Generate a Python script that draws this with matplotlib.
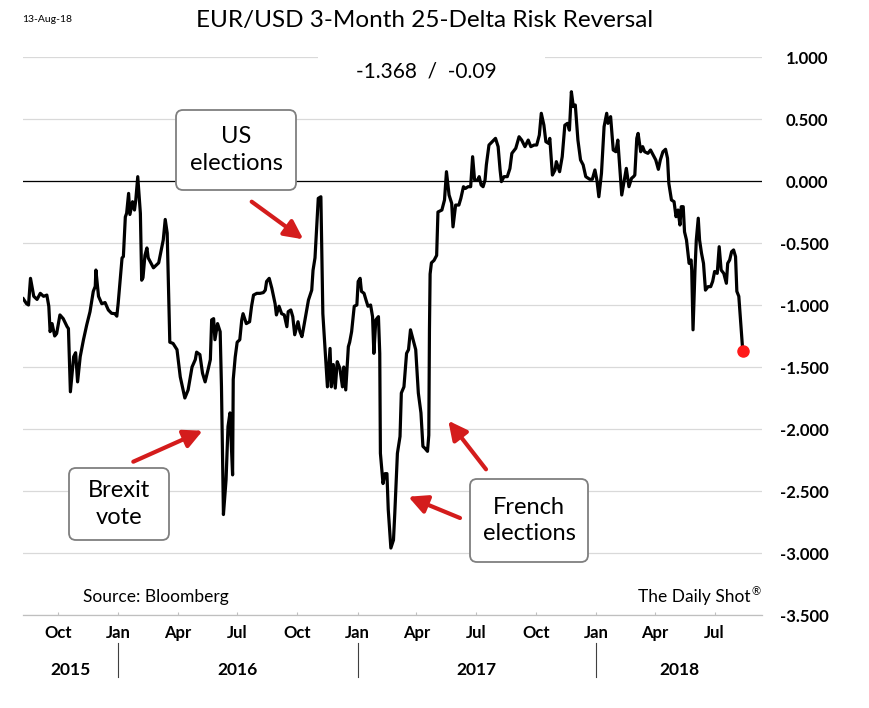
import numpy as np
import pandas as pd
import matplotlib
matplotlib.use("Agg")
import matplotlib.pyplot as plt
import matplotlib.dates as mdates
from matplotlib.ticker import FormatStrFormatter
from matplotlib.patches import FancyBboxPatch, Rectangle
from matplotlib.transforms import blended_transform_factory

plt.rcParams['font.family'] = ['Lato', 'DejaVu Sans']

# EUR/USD 3M 25-delta risk reversal
dates = [
    "2015-08-09", "2015-08-14", "2015-08-17", "2015-08-20", "2015-08-25", "2015-08-30",
    "2015-09-04", "2015-09-09", "2015-09-14", "2015-09-17", "2015-09-19", "2015-09-22",
    "2015-09-26", "2015-09-29", "2015-10-04", "2015-10-09", "2015-10-15", "2015-10-17",
    "2015-10-20", "2015-10-25", "2015-10-28", "2015-10-31", "2015-11-04", "2015-11-09",
    "2015-11-14", "2015-11-19", "2015-11-24", "2015-11-27", "2015-11-28", "2015-12-02",
    "2015-12-07", "2015-12-12", "2015-12-17", "2015-12-22", "2015-12-27", "2015-12-30",
    "2016-01-01", "2016-01-04", "2016-01-07", "2016-01-09", "2016-01-12", "2016-01-14",
    "2016-01-17", "2016-01-19", "2016-01-23", "2016-01-26", "2016-01-28", "2016-01-31",
    "2016-02-04", "2016-02-06", "2016-02-08", "2016-02-11", "2016-02-14", "2016-02-16",
    "2016-02-24", "2016-03-03", "2016-03-08", "2016-03-10", "2016-03-13", "2016-03-16",
    "2016-03-20", "2016-03-25", "2016-03-31", "2016-04-05", "2016-04-12", "2016-04-17",
    "2016-04-23", "2016-04-28", "2016-04-30", "2016-05-05", "2016-05-09", "2016-05-13",
    "2016-05-18", "2016-05-21", "2016-05-23", "2016-05-26", "2016-05-28", "2016-06-01",
    "2016-06-05", "2016-06-07", "2016-06-10", "2016-06-14", "2016-06-17", "2016-06-20",
    "2016-06-24", "2016-06-25", "2016-06-28", "2016-07-01", "2016-07-05", "2016-07-08",
    "2016-07-10", "2016-07-15", "2016-07-20", "2016-07-23", "2016-07-26", "2016-07-31",
    "2016-08-05", "2016-08-10", "2016-08-13", "2016-08-15", "2016-08-19", "2016-08-23",
    "2016-08-28", "2016-08-30", "2016-09-03", "2016-09-07", "2016-09-11", "2016-09-15",
    "2016-09-17", "2016-09-21", "2016-09-24", "2016-09-27", "2016-09-30", "2016-10-02",
    "2016-10-05", "2016-10-08", "2016-10-10", "2016-10-13", "2016-10-18", "2016-10-23",
    "2016-10-25", "2016-10-28", "2016-10-31", "2016-11-02", "2016-11-06", "2016-11-09",
    "2016-11-12", "2016-11-16", "2016-11-20", "2016-11-22", "2016-11-25", "2016-11-28",
    "2016-12-01", "2016-12-05", "2016-12-09", "2016-12-11", "2016-12-14", "2016-12-18",
    "2016-12-20", "2016-12-23", "2016-12-27", "2016-12-31", "2017-01-02", "2017-01-05",
    "2017-01-07", "2017-01-11", "2017-01-14", "2017-01-17", "2017-01-21", "2017-01-24",
    "2017-01-26", "2017-01-29", "2017-02-02", "2017-02-04", "2017-02-05", "2017-02-09",
    "2017-02-12", "2017-02-15", "2017-02-17", "2017-02-21", "2017-02-25", "2017-02-27",
    "2017-03-03", "2017-03-07", "2017-03-09", "2017-03-13", "2017-03-17", "2017-03-20",
    "2017-03-23", "2017-03-27", "2017-03-31", "2017-04-04", "2017-04-08", "2017-04-11",
    "2017-04-14", "2017-04-18", "2017-04-20", "2017-04-21", "2017-04-22", "2017-04-24",
    "2017-04-28", "2017-05-02", "2017-05-04", "2017-05-10", "2017-05-14", "2017-05-17",
    "2017-05-21", "2017-05-25", "2017-05-27", "2017-05-31", "2017-06-05", "2017-06-08",
    "2017-06-12", "2017-06-15", "2017-06-19", "2017-06-23", "2017-06-26", "2017-06-29",
    "2017-07-04", "2017-07-06", "2017-07-09", "2017-07-12", "2017-07-15", "2017-07-17",
    "2017-07-21", "2017-07-26", "2017-07-31", "2017-08-04", "2017-08-07", "2017-08-09",
    "2017-08-13", "2017-08-18", "2017-08-22", "2017-08-25", "2017-08-31", "2017-09-05",
    "2017-09-09", "2017-09-14", "2017-09-19", "2017-09-23", "2017-09-28", "2017-10-02",
    "2017-10-06", "2017-10-09", "2017-10-13", "2017-10-16", "2017-10-20", "2017-10-22",
    "2017-10-26", "2017-10-30", "2017-11-01", "2017-11-06", "2017-11-10", "2017-11-14",
    "2017-11-18", "2017-11-21", "2017-11-24", "2017-11-27", "2017-11-30", "2017-12-04",
    "2017-12-08", "2017-12-12", "2017-12-16", "2017-12-22", "2017-12-26", "2017-12-30",
    "2018-01-02", "2018-01-05", "2018-01-09", "2018-01-13", "2018-01-17", "2018-01-19",
    "2018-01-23", "2018-01-27", "2018-01-31", "2018-02-03", "2018-02-09", "2018-02-12",
    "2018-02-16", "2018-02-20", "2018-02-24", "2018-02-27", "2018-03-01", "2018-03-04",
    "2018-03-06", "2018-03-10", "2018-03-13", "2018-03-16", "2018-03-21", "2018-03-25",
    "2018-03-29", "2018-04-02", "2018-04-06", "2018-04-09", "2018-04-13", "2018-04-17",
    "2018-04-20", "2018-04-22", "2018-04-26", "2018-04-30", "2018-05-03", "2018-05-06",
    "2018-05-09", "2018-05-11", "2018-05-14", "2018-05-16", "2018-05-19", "2018-05-23",
    "2018-05-26", "2018-05-27", "2018-05-29", "2018-06-01", "2018-06-03", "2018-06-06",
    "2018-06-08", "2018-06-11", "2018-06-14", "2018-06-17", "2018-06-21", "2018-06-25",
    "2018-06-28", "2018-07-01", "2018-07-05", "2018-07-08", "2018-07-11", "2018-07-15",
    "2018-07-19", "2018-07-21", "2018-07-24", "2018-07-27", "2018-07-30", "2018-08-02",
    "2018-08-04", "2018-08-07", "2018-08-13",
]
values = [
    -0.95, -0.99, -1.00, -0.785, -0.93, -0.955,
    -0.906, -0.93, -0.92, -1.01, -1.215, -1.15,
    -1.25, -1.23, -1.08, -1.11, -1.175, -1.19,
    -1.70, -1.417, -1.385, -1.62, -1.417, -1.28,
    -1.16, -1.054, -0.89, -0.85, -0.718, -0.93,
    -0.99, -0.98, -1.04, -1.067, -1.07, -1.09,
    -0.99, -0.80, -0.62, -0.61, -0.29, -0.26,
    -0.10, -0.27, -0.167, -0.234, -0.153, 0.035,
    -0.26, -0.80, -0.78, -0.60, -0.54, -0.62,
    -0.70, -0.66, -0.53, -0.475, -0.31, -0.42,
    -1.30, -1.31, -1.36, -1.58, -1.75, -1.685,
    -1.50, -1.44, -1.38, -1.40, -1.55, -1.62,
    -1.51, -1.44, -1.12, -1.11, -1.28, -1.15,
    -1.215, -1.66, -2.69, -2.41, -1.98, -1.87,
    -2.37, -1.60, -1.42, -1.30, -1.28, -1.12,
    -1.07, -1.15, -1.135, -1.01, -0.92, -0.906,
    -0.906, -0.90, -0.88, -0.81, -0.785, -0.865,
    -0.99, -1.08, -1.01, -1.07, -1.08, -1.175,
    -1.054, -1.04, -1.094, -1.24, -1.175, -1.135,
    -1.215, -1.255, -1.20, -1.11, -0.96, -0.88,
    -0.72, -0.62, -0.33, -0.14, -0.127, -1.07,
    -1.32, -1.66, -1.35, -1.66, -1.48, -1.67,
    -1.457, -1.51, -1.66, -1.50, -1.685, -1.336,
    -1.30, -1.215, -1.01, -1.00, -0.81, -0.785,
    -0.89, -0.906, -0.96, -1.01, -1.00, -1.094,
    -1.39, -1.12, -1.094, -1.39, -2.196, -2.44,
    -2.36, -2.36, -2.65, -2.96, -2.895, -2.68,
    -2.196, -2.06, -1.71, -1.66, -1.39, -1.36,
    -1.20, -1.28, -1.36, -1.71, -1.87, -2.14,
    -2.155, -2.18, -2.05, -1.20, -0.75, -0.66,
    -0.64, -0.60, -0.25, -0.234, -0.153, 0.075,
    -0.113, -0.18, -0.37, -0.194, -0.194, -0.14,
    -0.046, -0.06, -0.046, -0.046, 0.196, 0.008,
    0.008, 0.035, -0.032, -0.046, 0.008, 0.13,
    0.29, 0.317, 0.344, 0.277, 0.089, -0.005,
    0.035, 0.035, 0.10, 0.223, 0.264, 0.357,
    0.33, 0.277, 0.33, 0.277, 0.29, 0.29,
    0.37, 0.546, 0.45, 0.317, 0.304, 0.344,
    0.048, 0.089, 0.156, 0.075, 0.196, 0.45,
    0.465, 0.41, 0.72, 0.60, 0.613, 0.33,
    0.17, 0.13, 0.035, 0.014, 0.014, 0.089,
    0.008, -0.127, 0.062, 0.438, 0.546, 0.465,
    0.519, 0.25, 0.236, 0.33, -0.113, -0.019,
    0.102, -0.046, 0.022, 0.035, 0.048, 0.344,
    0.384, 0.236, 0.277, 0.236, 0.223, 0.25,
    0.21, 0.17, 0.094, 0.17, 0.236, 0.256,
    0.183, -0.019, -0.153, -0.167, -0.288, -0.234,
    -0.355, -0.207, -0.207, -0.41, -0.476, -0.664,
    -0.637, -0.718, -1.20, -0.718, -0.476, -0.30,
    -0.476, -0.583, -0.664, -0.88, -0.852, -0.852,
    -0.81, -0.73, -0.745, -0.53, -0.718, -0.745,
    -0.825, -0.664, -0.637, -0.57, -0.556, -0.61,
    -0.89, -0.93, -1.368,
]

years = ["2015", "2016", "2017", "2018"]
year_starts = ["2016-01-01", "2017-01-01", "2018-01-01"]
x_range = ("2015-08-09", "2018-09-11")

title = "EUR/USD 3-Month 25-Delta Risk Reversal"
latest_label = "-1.368  /  -0.09"
date_stamp = "13-Aug-18"

W, H = 870, 708
fig = plt.figure(figsize=(W / 100, H / 100), dpi=100)
inch = fig.dpi_scale_trans


def px(x, y):
    # pixel position (top-left origin) -> inches for dpi_scale_trans
    return (x / 100, (H - y) / 100)


ax = fig.add_axes([23.3 / W, 1 - 615 / H, (761.7 - 23.3) / W, (615 - 57) / H])

t = pd.to_datetime(dates)
ax.plot(t, values, color="black", lw=2.3, solid_joinstyle="round", zorder=3)
ax.plot(t[-1:], values[-1:], "o", color="#ff1a1a", ms=8, zorder=4)

ax.set_xlim(pd.Timestamp(x_range[0]), pd.Timestamp(x_range[1]))
ax.set_ylim(-3.5, 1.0)
ax.set_yticks(np.arange(-3.5, 1.01, 0.5))
ax.yaxis.set_major_formatter(FormatStrFormatter("%.3f"))
ax.yaxis.tick_right()
ax.grid(axis="y", color="#d9d9d9", lw=0.9)
ax.axhline(0, color="black", lw=0.9, zorder=2)
for s in ["top", "left", "right"]:
    ax.spines[s].set_visible(False)
ax.spines["bottom"].set_color("#bfbfbf")
ax.spines["bottom"].set_linewidth(0.9)

ax.tick_params(axis="y", length=0, pad=48, labelsize=12)
for lab in ax.get_yticklabels():
    lab.set_ha("right")
    lab.set_fontweight("bold")

ax.xaxis.set_major_locator(mdates.MonthLocator(bymonth=[1, 4, 7, 10]))
ax.xaxis.set_major_formatter(mdates.DateFormatter("%b"))
ax.tick_params(axis="x", direction="in", length=2.5, color="#bfbfbf", pad=7, labelsize=12)
for lab in ax.get_xticklabels():
    lab.set_fontweight("bold")

# year row under the months
bt = blended_transform_factory(ax.transData, inch)
edges = [pd.Timestamp(x_range[0])] + [pd.Timestamp(d) for d in year_starts] + [pd.Timestamp(x_range[1])]
for d in year_starts:
    ax.plot([pd.Timestamp(d)] * 2, [px(0, 643)[1], px(0, 677)[1]], color="#404040", lw=0.8,
            transform=bt, clip_on=False)
for i, y in enumerate(years):
    mid = edges[i] + (edges[i + 1] - edges[i]) / 2
    ax.text(mid, px(0, 670)[1], y, transform=bt, ha="center", va="center",
            fontsize=12.5, fontweight="bold")

# header texts
fig.text(*px(425, 20), title, transform=inch, ha="center", va="center", fontsize=17.5)
fig.text(*px(22, 20), date_stamp, transform=inch, ha="left", va="center", fontsize=7.5)
fig.add_artist(Rectangle(px(318, 95), 2.27, 0.45, transform=inch, fc="white", ec="none", zorder=1))
fig.text(*px(426, 72), latest_label, transform=inch, ha="center", va="center", fontsize=15)
fig.text(*px(83, 597), "Source: Bloomberg", transform=inch, ha="left", va="center", fontsize=12.5)
fig.text(*px(750, 597), "The Daily Shot", transform=inch, ha="right", va="center", fontsize=12.5)
fig.text(*px(751, 592), "\u00ae", transform=inch, ha="left", va="center", fontsize=8)

# annotation boxes
boxes = [
    ("US\nelections", 176, 110, 296, 190),
    ("Brexit\nvote", 69, 468, 169, 540),
    ("French\nelections", 470, 479, 588, 562),
]
for txt, x0, y0, x1, y1 in boxes:
    fig.add_artist(FancyBboxPatch(px(x0, y1), (x1 - x0) / 100, (y1 - y0) / 100,
                                  boxstyle="round,pad=0,rounding_size=0.07", transform=inch,
                                  fc="white", ec="#7f7f7f", lw=1.3, zorder=2))
    fig.text(*px((x0 + x1) / 2, (y0 + y1) / 2), txt, transform=inch, ha="center", va="center",
             fontsize=17, linespacing=1.3, zorder=3)

arrows = [
    ((251.7, 201.7), (303.3, 239.3)),
    ((133.3, 461.7), (202.7, 430.7)),
    ((460.0, 518.0), (408.3, 496.7)),
    ((486.0, 469.3), (448.3, 420.7)),
]
for start, end in arrows:
    ax.annotate("", xy=px(*end), xycoords=inch, xytext=px(*start), textcoords=inch,
                annotation_clip=False,
                arrowprops=dict(arrowstyle="-|>,head_length=0.7,head_width=0.35", color="#d41c1c",
                                lw=3, mutation_scale=16, shrinkA=0, shrinkB=0))

fig.savefig("out.png", dpi=100)
